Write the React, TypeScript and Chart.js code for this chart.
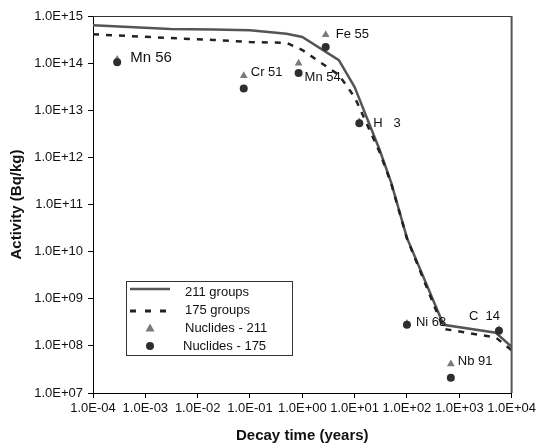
import React, { useEffect, useRef } from 'react';
import { Chart, registerables } from 'chart.js';

Chart.register(...registerables);

// ---- data ----
const lineTimes = [1e-4, 3e-3, 0.02, 0.1, 0.5, 1, 5, 10, 30, 50, 100, 500, 5000, 1e4];
const groups211 = [6.4e14, 5.3e14, 5.2e14, 5.0e14, 4.2e14, 3.6e14, 1.16e14, 3.1e13, 1.45e12, 2.9e11, 1.95e10, 2.8e8, 1.9e8, 9.5e7];
const groups175 = [4.1e14, 3.4e14, 3.1e14, 2.8e14, 2.7e14, 1.9e14, 5.6e13, 1.9e13, 1.3e12, 2.8e11, 1.9e10, 2.3e8, 1.5e8, 8.1e7];

const nuclideNames = ['Mn 56', 'Cr 51', 'Mn 54', 'Fe 55', 'H   3', 'Ni 63', 'Nb 91', 'C  14'];
const halfLives = [2.9e-4, 0.076, 0.85, 2.8, 12.3, 100, 690, 5730];
const nuclides211 = [1.2e14, 5.4e13, 1.0e14, 4.0e14, 5.6e12, 3.0e8, 4.1e7, 2.2e8];
const nuclides175 = [1.05e14, 2.9e13, 6.2e13, 2.2e14, 5.3e12, 2.8e8, 2.1e7, 2.1e8];

const seriesNames = ['211 groups', '175 groups', 'Nuclides - 211', 'Nuclides - 175'];

const xTickValues = [1e-4, 1e-3, 1e-2, 1e-1, 1e0, 1e1, 1e2, 1e3, 1e4];
const xTickLabels = ['1.0E-04', '1.0E-03', '1.0E-02', '1.0E-01', '1.0E+00', '1.0E+01', '1.0E+02', '1.0E+03', '1.0E+04'];
const yTickValues = [1e7, 1e8, 1e9, 1e10, 1e11, 1e12, 1e13, 1e14, 1e15];
const yTickLabels = ['1.0E+07', '1.0E+08', '1.0E+09', '1.0E+10', '1.0E+11', '1.0E+12', '1.0E+13', '1.0E+14', '1.0E+15'];

const xTitle = 'Decay time (years)';
const yTitle = 'Activity (Bq/kg)';

// ---- styles ----
const FONT = '"Liberation Sans", Arial, Helvetica, sans-serif';
const SOLID_COLOR = '#555555';
const DASH_COLOR = '#222222';
const TRI_COLOR = '#7a7a7a';
const CIRCLE_COLOR = '#2e2e2e';
// label offsets in px relative to the "Nuclides - 175" point, and font sizes
const labelOffsets: [number, number][] = [
  [13, -4], [7, -16], [6, 5], [10, -13], [14, 0], [9, -2], [7, -16], [-30, -14],
];
const labelSizes = [15, 13, 13, 13, 13, 13, 13, 13];

const labelsPlugin = {
  id: 'nuclideLabels',
  afterDatasetsDraw(chart: any) {
    const { ctx } = chart;
    const xs = chart.scales.x;
    const ys = chart.scales.y;
    ctx.save();
    ctx.fillStyle = '#111';
    ctx.textBaseline = 'middle';
    ctx.textAlign = 'left';
    nuclideNames.forEach((name, i) => {
      const px = xs.getPixelForValue(halfLives[i]);
      const py = ys.getPixelForValue(nuclides175[i]);
      ctx.font = `${labelSizes[i]}px ${FONT}`;
      ctx.fillText(name, px + labelOffsets[i][0], py + labelOffsets[i][1]);
    });
    ctx.restore();
  },
};

const framePlugin = {
  id: 'frame',
  afterDraw(chart: any) {
    const { ctx, chartArea: a } = chart;
    ctx.save();
    ctx.fillStyle = '#333';
    ctx.fillRect(a.left, a.top, a.right - a.left, 1);
    ctx.fillStyle = '#555';
    ctx.fillRect(a.right - 1, a.top, 2, a.bottom - a.top);
    ctx.restore();
  },
};

const legendPlugin = {
  id: 'boxLegend',
  afterDraw(chart: any) {
    const { ctx } = chart;
    const x0 = 126.5, y0 = 281.5, w = 166, h = 74;
    ctx.save();
    ctx.fillStyle = '#fff';
    ctx.fillRect(x0, y0, w, h);
    ctx.strokeStyle = '#333';
    ctx.lineWidth = 1;
    ctx.strokeRect(x0, y0, w, h);
    const rowY = [292, 310, 328, 346];
    ctx.strokeStyle = SOLID_COLOR;
    ctx.lineWidth = 2.5;
    ctx.beginPath();
    ctx.moveTo(130, rowY[0] - 3);
    ctx.lineTo(170, rowY[0] - 3);
    ctx.stroke();
    ctx.strokeStyle = DASH_COLOR;
    ctx.lineWidth = 3;
    ctx.setLineDash([6, 9]);
    ctx.beginPath();
    ctx.moveTo(130, rowY[1] + 1);
    ctx.lineTo(170, rowY[1] + 1);
    ctx.stroke();
    ctx.setLineDash([]);
    ctx.fillStyle = TRI_COLOR;
    ctx.beginPath();
    ctx.moveTo(150, rowY[2] - 4.5);
    ctx.lineTo(154.5, rowY[2] + 3.5);
    ctx.lineTo(145.5, rowY[2] + 3.5);
    ctx.closePath();
    ctx.fill();
    ctx.fillStyle = CIRCLE_COLOR;
    ctx.beginPath();
    ctx.arc(150, rowY[3], 4, 0, Math.PI * 2);
    ctx.fill();
    ctx.fillStyle = '#111';
    ctx.font = `13px ${FONT}`;
    ctx.textBaseline = 'middle';
    ctx.textAlign = 'left';
    const textX = [185, 185, 185, 183];
    seriesNames.forEach((n, i) => ctx.fillText(n, textX[i], rowY[i]));
    ctx.restore();
  },
};

export default function App() {
  const ref = useRef<HTMLCanvasElement>(null);
  useEffect(() => {
    if (!ref.current) return;
    const chart = new Chart(ref.current, {
      type: 'scatter',
      data: {
        datasets: [
          {
            label: seriesNames[0],
            data: lineTimes.map((t, i) => ({ x: t, y: groups211[i] })),
            showLine: true,
            borderColor: SOLID_COLOR,
            borderWidth: 2.5,
            pointRadius: 0,
            order: 4,
          },
          {
            label: seriesNames[1],
            data: lineTimes.map((t, i) => ({ x: t, y: groups175[i] })),
            showLine: true,
            borderColor: DASH_COLOR,
            borderWidth: 2.5,
            borderDash: [6, 7],
            pointRadius: 0,
            order: 3,
          },
          {
            label: seriesNames[2],
            data: halfLives.map((t, i) => ({ x: t, y: nuclides211[i] })),
            pointStyle: 'triangle',
            pointRadius: 4.5,
            backgroundColor: TRI_COLOR,
            borderColor: TRI_COLOR,
            borderWidth: 0,
            order: 2,
          },
          {
            label: seriesNames[3],
            data: halfLives.map((t, i) => ({ x: t, y: nuclides175[i] })),
            pointStyle: 'circle',
            pointRadius: 4,
            backgroundColor: CIRCLE_COLOR,
            borderColor: CIRCLE_COLOR,
            borderWidth: 0,
            order: 1,
          },
        ],
      },
      options: {
        animation: false,
        responsive: false,
        devicePixelRatio: 1,
        layout: { padding: { left: 0, right: 26, top: 16, bottom: 0 } },
        plugins: { legend: { display: false }, tooltip: { enabled: false } },
        scales: {
          x: {
            type: 'logarithmic',
            min: 1e-4,
            max: 1e4,
            afterBuildTicks: (s: any) => { s.ticks = xTickValues.map((v) => ({ value: v })); },
            afterFit: (s: any) => { s.height = 52; },
            ticks: {
              autoSkip: false,
              maxRotation: 0,
              minRotation: 0,
              padding: 3,
              color: '#111',
              font: { family: FONT, size: 13 },
              callback: (v: any) => { const i = xTickValues.indexOf(Number(v)); return i >= 0 ? xTickLabels[i] : ''; },
            },
            grid: { drawOnChartArea: false, drawTicks: true, tickLength: 5, color: '#000' },
            border: { color: '#000', width: 1 },
            title: { display: true, text: xTitle, color: '#111', font: { family: FONT, size: 15, weight: 'bold' }, padding: { top: 0, bottom: 0 } },
          },
          y: {
            type: 'logarithmic',
            min: 1e7,
            max: 1e15,
            afterBuildTicks: (s: any) => { s.ticks = yTickValues.map((v) => ({ value: v })); },
            afterFit: (s: any) => { s.width = 93; },
            ticks: {
              autoSkip: false,
              padding: 5,
              color: '#111',
              font: { family: FONT, size: 13 },
              callback: (v: any) => { const i = yTickValues.indexOf(Number(v)); return i >= 0 ? yTickLabels[i] : ''; },
            },
            grid: { drawOnChartArea: false, drawTicks: true, tickLength: 5, color: '#000' },
            border: { color: '#000', width: 1 },
            title: { display: true, text: yTitle, color: '#111', font: { family: FONT, size: 15, weight: 'bold' }, padding: { top: 8, bottom: 0 } },
          },
        },
      },
      plugins: [framePlugin, labelsPlugin, legendPlugin],
    } as any);
    return () => chart.destroy();
  }, []);
  return (
    <div style={{ position: 'fixed', left: 0, top: 0, width: 539, height: 445, background: '#fff' }}>
      <canvas ref={ref} width={539} height={445} style={{ display: 'block' }} />
    </div>
  );
}
